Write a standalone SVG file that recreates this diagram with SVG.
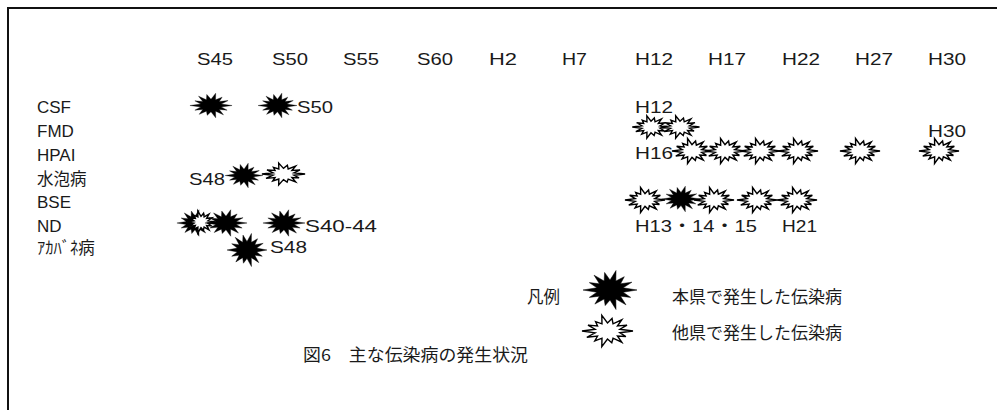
<svg xmlns="http://www.w3.org/2000/svg" xmlns:xlink="http://www.w3.org/1999/xlink" width="997" height="410" viewBox="0 0 997 410">
<style>
.t{font-family:"Liberation Sans","Noto Sans CJK JP",sans-serif;font-size:17px;fill:#1a1a1a}
.j{font-family:"Noto Sans CJK JP",sans-serif;font-size:16.5px;fill:#1a1a1a}
.blk{fill:#000;stroke:#000;stroke-width:0.5}
.wht{fill:#fff;stroke:#000;stroke-width:1.4;stroke-linejoin:miter;vector-effect:non-scaling-stroke}
</style>
<defs>
<polygon id="bb" class="blk" points="27,0 13.16,2.23 20.68,7.38 10.56,6.23 15.98,14.86 5.86,9.01 6.02,19.5 0,10 -4.82,15.6 -5.86,9.01 -15.14,14.08 -10.56,6.23 -20.68,7.38 -13.16,2.23 -27,0 -13.16,-2.23 -20.68,-7.38 -10.56,-6.23 -15.98,-14.86 -5.86,-9.01 -5.42,-17.55 0,-10 6.02,-19.5 5.86,-9.01 14.3,-13.29 10.56,-6.23 21.89,-7.81 13.16,-2.23"/>
<polygon id="wb" class="wht" points="26,0 12.68,1.78 18.74,5.56 10.17,4.98 14.58,11.26 5.64,7.21 4.35,11.7 0,8 -5.8,15.6 -5.64,7.21 -12.96,10.01 -10.17,4.98 -21.08,6.25 -12.68,1.78 -26,0 -12.68,-1.78 -19.91,-5.9 -10.17,-4.98 -12.15,-9.38 -5.64,-7.21 -5.8,-15.6 0,-8 4.64,-12.48 5.64,-7.21 14.58,-11.26 10.17,-4.98 19.91,-5.9 12.68,-1.78"/>
</defs>
<path d="M8,410 V8 H997" fill="none" stroke="#111" stroke-width="2"/>
<g id="header">
<text class="t" x="197" y="65" textLength="36" lengthAdjust="spacingAndGlyphs">S45</text>
<text class="t" x="272" y="65" textLength="36" lengthAdjust="spacingAndGlyphs">S50</text>
<text class="t" x="343" y="65" textLength="36" lengthAdjust="spacingAndGlyphs">S55</text>
<text class="t" x="417" y="65" textLength="36" lengthAdjust="spacingAndGlyphs">S60</text>
<text class="t" x="489" y="65" textLength="28" lengthAdjust="spacingAndGlyphs">H2</text>
<text class="t" x="562" y="65" textLength="25" lengthAdjust="spacingAndGlyphs">H7</text>
<text class="t" x="635" y="65" textLength="38" lengthAdjust="spacingAndGlyphs">H12</text>
<text class="t" x="708" y="65" textLength="38" lengthAdjust="spacingAndGlyphs">H17</text>
<text class="t" x="782" y="65" textLength="38" lengthAdjust="spacingAndGlyphs">H22</text>
<text class="t" x="855" y="65" textLength="38" lengthAdjust="spacingAndGlyphs">H27</text>
<text class="t" x="928" y="65" textLength="38" lengthAdjust="spacingAndGlyphs">H30</text>
</g>
<g id="row-labels">
<text class="t" x="37" y="113">CSF</text>
<text class="t" x="37" y="137">FMD</text>
<text class="t" x="37" y="161">HPAI</text>
<text class="j" x="37" y="184.5">水泡病</text>
<text class="t" x="37" y="208">BSE</text>
<text class="t" x="37" y="232">ND</text>
<text class="j" x="37" y="254">ｱｶﾊﾞﾈ病</text>
</g>
<g id="csf">
<use xlink:href="#bb" transform="translate(211,105.5) scale(0.78,0.63)"/>
<use xlink:href="#bb" transform="translate(277.5,105.5) scale(0.72,0.63)"/>
<text class="t" x="297" y="113" textLength="36" lengthAdjust="spacingAndGlyphs">S50</text>
<text class="t" x="635" y="113" textLength="38" lengthAdjust="spacingAndGlyphs">H12</text>
</g>
<g id="fmd">
<use xlink:href="#wb" transform="translate(651,127) scale(0.72,0.72)"/>
<use xlink:href="#wb" transform="translate(680,127) scale(0.75,0.72)"/>
<text class="t" x="928" y="137" textLength="38" lengthAdjust="spacingAndGlyphs">H30</text>
</g>
<g id="hpai">
<text class="t" x="635" y="159" textLength="38" lengthAdjust="spacingAndGlyphs">H16</text>
<use xlink:href="#wb" transform="translate(692,151) scale(0.77,0.8)"/>
<use xlink:href="#wb" transform="translate(725,151) scale(0.77,0.8)"/>
<use xlink:href="#wb" transform="translate(760,151) scale(0.77,0.8)"/>
<use xlink:href="#wb" transform="translate(798,151) scale(0.77,0.8)"/>
<use xlink:href="#wb" transform="translate(860,151) scale(0.77,0.8)"/>
<use xlink:href="#wb" transform="translate(939,151) scale(0.77,0.8)"/>
</g>
<g id="suihoubyou">
<text class="t" x="189" y="185" textLength="36" lengthAdjust="spacingAndGlyphs">S48</text>
<use xlink:href="#bb" transform="translate(244,175.5) scale(0.7,0.63)"/>
<use xlink:href="#wb" transform="translate(283.5,174) scale(0.83,0.7)"/>
</g>
<g id="bse">
<use xlink:href="#wb" transform="translate(645,200) scale(0.77,0.8)"/>
<use xlink:href="#bb" transform="translate(681,199) scale(0.72,0.66)"/>
<use xlink:href="#wb" transform="translate(714,200) scale(0.77,0.8)"/>
<use xlink:href="#wb" transform="translate(757,200) scale(0.77,0.8)"/>
<use xlink:href="#wb" transform="translate(797,200) scale(0.77,0.8)"/>
<text class="t" x="635" y="232" textLength="122" lengthAdjust="spacingAndGlyphs">H13・14・15</text>
<text class="t" x="782" y="232" textLength="35" lengthAdjust="spacingAndGlyphs">H21</text>
</g>
<g id="nd">
<use xlink:href="#bb" transform="translate(195,223) scale(0.67,0.68)"/>
<use xlink:href="#wb" transform="translate(201,222) scale(0.55,0.7)"/>
<use xlink:href="#bb" transform="translate(226,223) scale(0.78,0.68)"/>
<use xlink:href="#bb" transform="translate(284,223) scale(0.78,0.68)"/>
<text class="t" x="305" y="232" textLength="72" lengthAdjust="spacingAndGlyphs">S40-44</text>
</g>
<g id="akabane">
<use xlink:href="#bb" transform="translate(247,250) scale(0.74,0.85)"/>
<text class="t" x="270" y="253" textLength="37" lengthAdjust="spacingAndGlyphs">S48</text>
</g>
<g id="legend">
<text class="j" x="527" y="303">凡例</text>
<use xlink:href="#bb" transform="translate(610,290)"/>
<text class="j" x="672" y="303" textLength="170" lengthAdjust="spacingAndGlyphs">本県で発生した伝染病</text>
<use xlink:href="#wb" transform="translate(607.5,331) scale(0.98,1)"/>
<text class="j" x="672" y="339" textLength="170" lengthAdjust="spacingAndGlyphs">他県で発生した伝染病</text>
</g>
<g id="caption">
<text class="j" x="303" y="361" textLength="225" lengthAdjust="spacingAndGlyphs">図6　主な伝染病の発生状況</text>
</g>
</svg>
